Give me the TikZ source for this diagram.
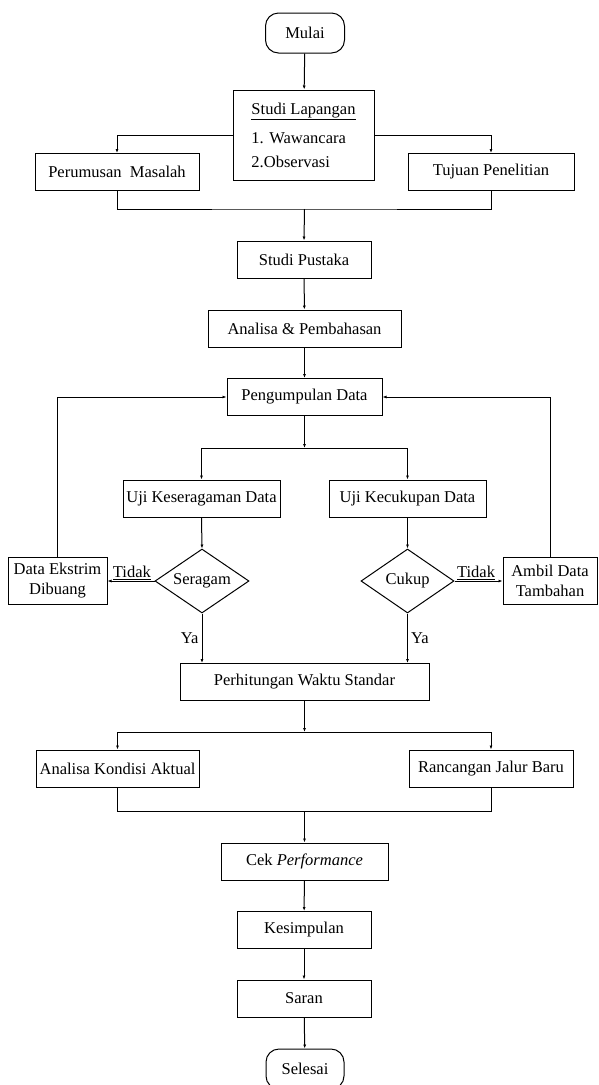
\documentclass[tikz,border=0pt]{standalone}
\usepackage{fontspec}
\setmainfont{Liberation Serif}
\usetikzlibrary{shapes.geometric,arrows.meta}

\begin{document}
\begin{tikzpicture}[x=1pt, y=-1pt,
    line width=1pt,
    >={Latex[length=4pt,width=3pt]},
    box/.style={draw, minimum height=37pt, inner sep=1pt, font=\fontsize{16.5}{20}\selectfont},
    term/.style={box, rounded corners=13pt, minimum height=40pt},
    cond/.style={draw, shape=diamond, shape aspect=1.47, inner sep=0pt,
      minimum width=94pt, minimum height=64pt, font=\fontsize{16.5}{20}\selectfont},
    lbl/.style={inner sep=1pt, font=\fontsize{16.5}{20}\selectfont}]
  \useasboundingbox (0,0) rectangle (598,1085);

  % Start and field study
  \node[term, minimum width=79pt] (mulai) at (305,33) {Mulai};
  \node[box, minimum width=141pt, minimum height=90pt, align=left,
    font=\fontsize{16.5}{24}\selectfont] (lapangan) at (303.5,135)
    {\underline{Studi Lapangan}\\[5pt]1. Wawancara\\2.Observasi};
  \node[box, minimum width=164pt] (rumusan) at (117,172) {Perumusan~ Masalah};
  \node[box, minimum width=166pt] (tujuan) at (491,172) {Tujuan Penelitian};

  % Main column
  \node[box, minimum width=134pt] (pustaka) at (304,259.5) {Studi Pustaka};
  \node[box, minimum width=193pt] (bahas) at (304.5,328.5) {Analisa \& Pembahasan};
  \node[box, minimum width=155pt] (kumpul) at (304.5,397) {Pengumpulan Data};

  % Data tests
  \node[box, minimum width=157pt] (seragamuji) at (201.5,498.5) {Uji Keseragaman Data};
  \node[box, minimum width=157pt] (cukupuji) at (407.5,498.5) {Uji Kecukupan Data};
  \node[cond] (seragam) at (202,581) {Seragam};
  \node[cond, minimum width=93pt] (cukup) at (407.5,581) {Cukup};
  \node[box, minimum width=99pt, minimum height=47pt, align=center] (ekstrim)
    at (57.5,580.5) {Data Ekstrim\\Dibuang};
  \node[box, minimum width=94pt, minimum height=47pt, align=center] (ambil)
    at (550,580.5) {Ambil Data\\Tambahan};

  % Standard time and results
  \node[box, minimum width=249pt] (hitung) at (304.5,682) {Perhitungan Waktu Standar};
  \node[box, minimum width=163pt] (aktual) at (117.5,768.5) {Analisa Kondisi Aktual};
  \node[box, minimum width=164pt] (rancang) at (491,768.5) {Rancangan Jalur Baru};
  \node[box, minimum width=167pt] (cek) at (304.5,861.5) {Cek \textit{Performance}};
  \node[box, minimum width=134pt] (simpul) at (304,930) {Kesimpulan};
  \node[box, minimum width=134pt] (saran) at (304,998.5) {Saran};
  \node[term, minimum width=78pt] (selesai) at (305,1069) {Selesai};

  % Junction points
  \coordinate (gabung1) at (304.5,209);
  \coordinate (cabang2) at (304.5,448);
  \coordinate (cabang3) at (304.5,732);
  \coordinate (gabung3) at (304.5,811);

  % Connectors
  \draw[->] (mulai) -- (lapangan);
  \draw[->] (lapangan.west) -| (rumusan.north);
  \draw[->] (lapangan.east) -| (tujuan.north);
  \draw (rumusan.south) |- (gabung1) -| (tujuan.south);
  \draw[->] (gabung1) -- (pustaka.north);
  \draw[->] (pustaka) -- (bahas);
  \draw[->] (bahas) -- (kumpul);
  \draw[->] (kumpul) -- (cabang2);
  \draw[->] (cabang2) -| (seragamuji.north);
  \draw[->] (cabang2) -| (cukupuji.north);
  \draw[->] (seragamuji.south) -- (seragam.north);
  \draw[->] (cukupuji.south) -- (cukup.north);
  \draw[->] (seragam.west) -- (seragam.west -| ekstrim.east)
    node[lbl, pos=0.48, above] {\underline{Tidak}};
  \draw[->] (cukup.east) -- (cukup.east -| ambil.west)
    node[lbl, pos=0.45, above] {\underline{Tidak}};
  \draw[->] (ekstrim.north) |- (kumpul.west);
  \draw[->] (ambil.north) |- (kumpul.east);
  \draw[->] (seragam.south) -- (seragam.south |- hitung.north)
    node[lbl, pos=0.5, left=2pt] {Ya};
  \draw[->] (cukup.south) -- (cukup.south |- hitung.north)
    node[lbl, pos=0.5, right=2pt] {Ya};
  \draw[->] (hitung) -- (cabang3);
  \draw[->] (cabang3) -| (aktual.north);
  \draw[->] (cabang3) -| (rancang.north);
  \draw (aktual.south) |- (gabung3) -| (rancang.south);
  \draw[->] (gabung3) -- (cek.north);
  \draw[->] (cek) -- (simpul);
  \draw[->] (simpul) -- (saran);
  \draw[->] (saran) -- (selesai);
\end{tikzpicture}
\end{document}
